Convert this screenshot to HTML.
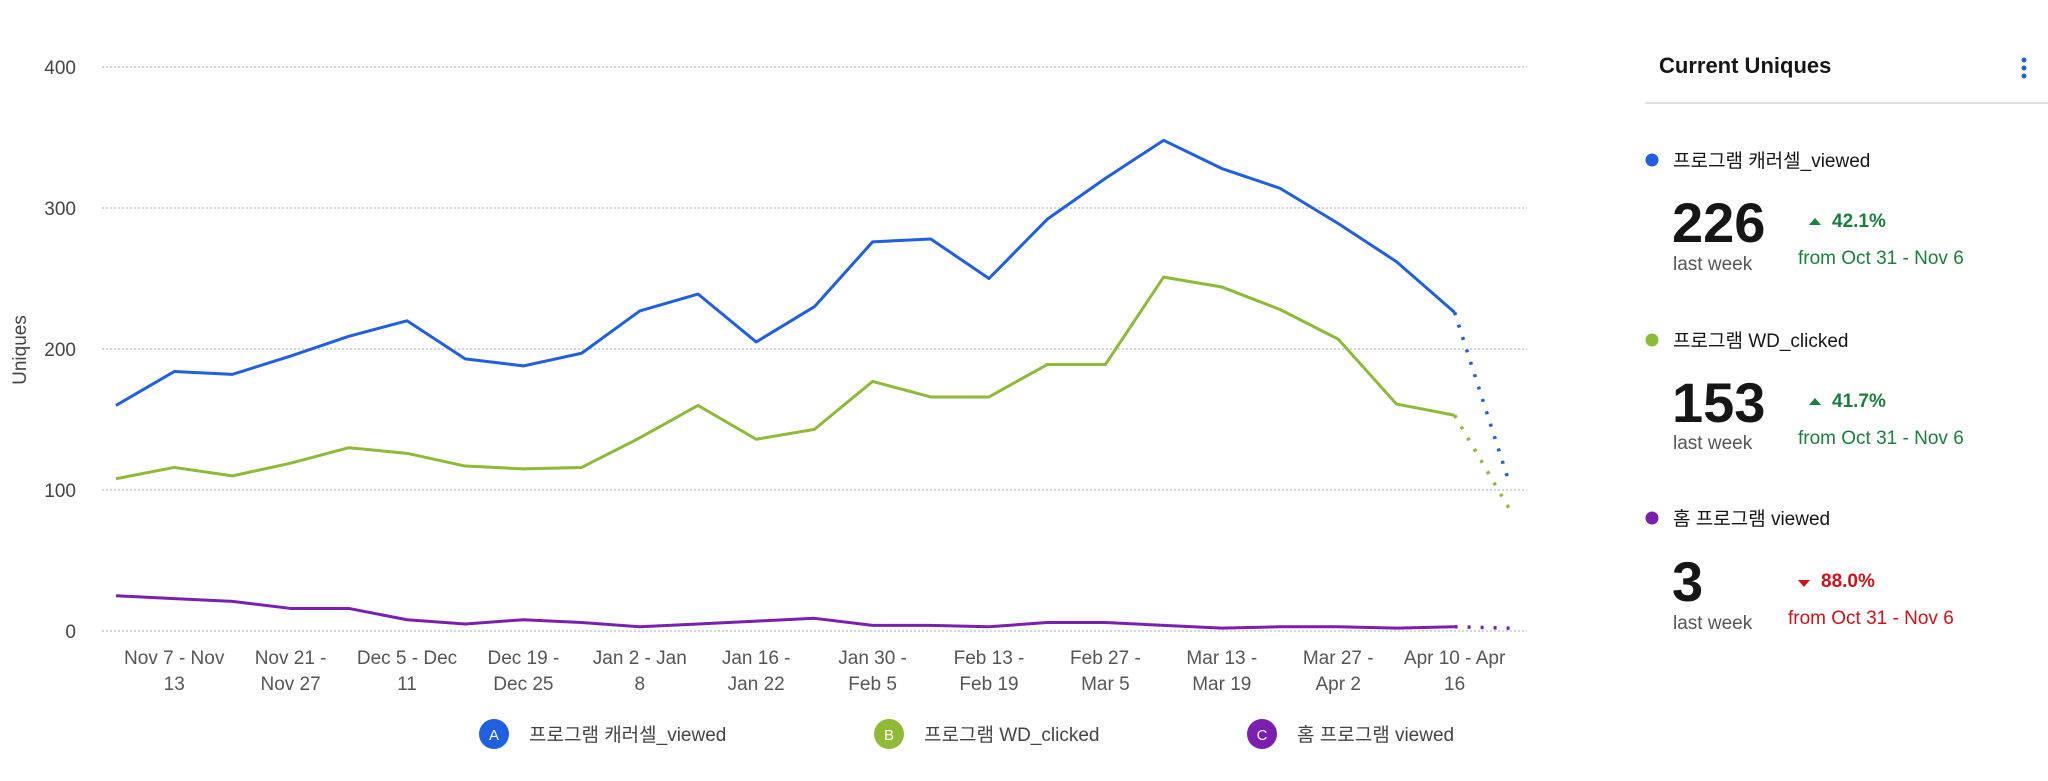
<!DOCTYPE html>
<html><head><meta charset="utf-8">
<style>
body{margin:0;width:2048px;height:776px;background:#fff;overflow:hidden;font-family:"Liberation Sans","Noto Sans CJK KR",sans-serif;}
svg text{font-family:"Liberation Sans","Noto Sans CJK KR",sans-serif;}
</style></head>
<body>
<svg id="chart" width="2048" height="776" viewBox="0 0 2048 776" xmlns="http://www.w3.org/2000/svg">
<g id="grid"></g>
<g id="yaxis"></g>
<text x="0" y="0" transform="translate(26,350) rotate(-90)" text-anchor="middle" font-size="19" fill="#444">Uniques</text>
<g id="xaxis"></g>
<g id="series"></g>
<g>
<g><circle cx="494" cy="734" r="15" fill="#1f5fe0"/><text x="494" y="740" text-anchor="middle" font-size="15" fill="#fff">A</text><text x="529" y="741" font-size="19" fill="#444">프로그램 캐러셀_viewed</text></g>
<g><circle cx="889" cy="734" r="15" fill="#8fba38"/><text x="889" y="740" text-anchor="middle" font-size="15" fill="#fff">B</text><text x="924" y="741" font-size="19" fill="#444">프로그램 WD_clicked</text></g>
<g><circle cx="1262" cy="734" r="15" fill="#7a1fb0"/><text x="1262" y="740" text-anchor="middle" font-size="15" fill="#fff">C</text><text x="1297" y="741" font-size="19" fill="#444">홈 프로그램 viewed</text></g>
</g>
<g>
<text x="1659" y="73" font-size="22" font-weight="bold" fill="#161616">Current Uniques</text>
<g fill="#1f5fe0"><circle cx="2024" cy="60" r="2.5"/><circle cx="2024" cy="68" r="2.5"/><circle cx="2024" cy="76" r="2.5"/></g>
<line x1="1645" y1="103" x2="2048" y2="103" stroke="#e0e0e0" stroke-width="2"/>

<g>
<circle cx="1652" cy="160" r="6.5" fill="#1f5fe0"/>
<text x="1673" y="167" font-size="19" fill="#161616">프로그램 캐러셀_viewed</text>
<text x="1672" y="242" font-size="56" font-weight="bold" fill="#161616">226</text>
<text x="1673" y="270" font-size="19" fill="#555">last week</text>
<path d="M1809 225 L1815 218 L1821 225 Z" fill="#1a7f3c"/>
<text x="1832" y="227" font-size="19" font-weight="bold" fill="#1a7f3c">42.1%</text>
<text x="1798" y="264" font-size="19" fill="#1a7f3c">from Oct 31 - Nov 6</text>
</g>
<g>
<circle cx="1652" cy="340" r="6.5" fill="#8fba38"/>
<text x="1673" y="347" font-size="19" fill="#161616">프로그램 WD_clicked</text>
<text x="1672" y="422" font-size="56" font-weight="bold" fill="#161616">153</text>
<text x="1673" y="449" font-size="19" fill="#555">last week</text>
<path d="M1809 405 L1815 398 L1821 405 Z" fill="#1a7f3c"/>
<text x="1832" y="407" font-size="19" font-weight="bold" fill="#1a7f3c">41.7%</text>
<text x="1798" y="444" font-size="19" fill="#1a7f3c">from Oct 31 - Nov 6</text>
</g>
<g>
<circle cx="1652" cy="518" r="6.5" fill="#7a1fb0"/>
<text x="1673" y="525" font-size="19" fill="#161616">홈 프로그램 viewed</text>
<text x="1672" y="601" font-size="56" font-weight="bold" fill="#161616">3</text>
<text x="1673" y="629" font-size="19" fill="#555">last week</text>
<path d="M1798 580 L1804 587 L1810 580 Z" fill="#d0101b"/>
<text x="1821" y="587" font-size="19" font-weight="bold" fill="#d0101b">88.0%</text>
<text x="1788" y="624" font-size="19" fill="#d0101b">from Oct 31 - Nov 6</text>
</g>
</g>
</svg>
<script>
const yTicks=[0,100,200,300,400];
const xLabels1=["Nov 7 - Nov","Nov 21 -","Dec 5 - Dec","Dec 19 -","Jan 2 - Jan","Jan 16 -","Jan 30 -","Feb 13 -","Feb 27 -","Mar 13 -","Mar 27 -","Apr 10 - Apr"];
const xLabels2=["13","Nov 27","11","Dec 25","8","Jan 22","Feb 5","Feb 19","Mar 5","Mar 19","Apr 2","16"];
const seriesA=[160,184,182,195,209,220,193,188,197,227,239,205,230,276,278,250,292,321,348,328,314,289,262,226];
const seriesB=[108,116,110,119,130,126,117,115,116,137,160,136,143,177,166,166,189,189,251,244,228,207,161,153];
const seriesC=[25,23,21,16,16,8,5,8,6,3,5,7,9,4,4,3,6,6,4,2,3,3,2,3];
const partialA=104, partialB=86, partialC=2;

const NS="http://www.w3.org/2000/svg";
function x(i){return 116+i*58.2;}
function y(v){return 631-v*1.41;}
function mk(tag,attrs,parent){const e=document.createElementNS(NS,tag);for(const k in attrs)e.setAttribute(k,attrs[k]);parent.appendChild(e);return e;}
const grid=document.getElementById('grid'),yaxis=document.getElementById('yaxis'),xaxis=document.getElementById('xaxis'),ser=document.getElementById('series');
yTicks.forEach(t=>{
  const l=mk('line',{x1:102,x2:1527,y1:y(t),y2:y(t),stroke:'#b8bcc4','stroke-width':1.2,'stroke-dasharray':'2 2'},grid);
  
  
  const tx=mk('text',{x:76,y:y(t)+7,'text-anchor':'end','font-size':19,fill:'#444'},yaxis);
  tx.textContent=t;
  
  
});
xLabels1.forEach((s,k)=>{
  const i=1+2*k;
  const t1=mk('text',{x:x(i),y:664,'text-anchor':'middle','font-size':19,fill:'#555'},xaxis);
  t1.textContent=s;
  
  
  const t2=mk('text',{x:x(i),y:690,'text-anchor':'middle','font-size':19,fill:'#555'},xaxis);
  t2.textContent=xLabels2[k];
  
  
});
function draw(vals,partial,color,name){
  const d=vals.map((v,i)=>(i?'L':'M')+x(i)+' '+y(v)).join(' ');
  const p=mk('path',{d:d,fill:'none',stroke:color,'stroke-width':3,'stroke-linejoin':'round'},ser);
  
  
  const n=vals.length;
  const q=mk('line',{x1:x(n-1),y1:y(vals[n-1]),x2:x(n)-3,y2:y(partial),stroke:color,'stroke-width':3.5,'stroke-dasharray':'3 10','stroke-linecap':'butt'},ser);
  
  
}
draw(seriesB,partialB,'#8fba38','series-b');
draw(seriesA,partialA,'#1f5fe0','series-a');
draw(seriesC,partialC,'#7a1fb0','series-c');
</script>
</body></html>
